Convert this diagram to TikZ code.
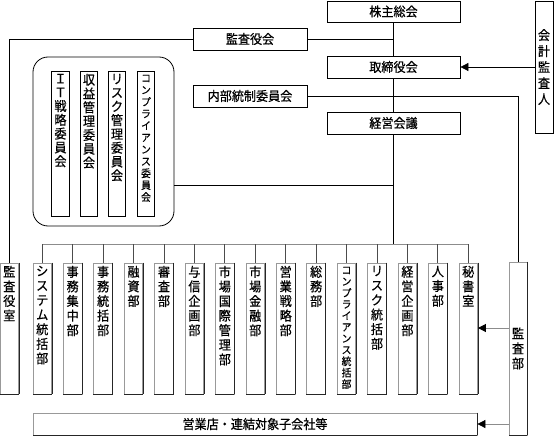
\documentclass[tikz,border=0pt]{standalone}
\usepackage{fontspec}
\setmainfont{Noto Sans CJK JP}[FakeStretch=0.93, FakeBold=0.6]
\usetikzlibrary{arrows.meta}
\tikzset{
  ln/.style={draw=black, line width=0.8pt},
  gln/.style={draw=black!45, line width=0.8pt},
  arr/.style={draw=black!45, line width=0.8pt, -{Triangle[length=8pt,width=8pt,color=black]}},
  hbox/.style={draw=black, line width=0.8pt, inner sep=0pt, font=\fontsize{13}{15}\selectfont},
  vbox/.style={draw=black, line width=0.8pt, inner sep=0pt, minimum width=18pt},
  dept/.style={draw=black!40, line width=0.8pt, inner sep=0pt, minimum width=18.5pt, minimum height=131pt,
    append after command={(\tikzlastnode.north east) edge[draw=black!85,line width=0.8pt] (\tikzlastnode.south east)
      (\tikzlastnode.south east) edge[draw=black!85,line width=0.8pt] (\tikzlastnode.south west)}},
  vtxt/.style={anchor=north, inner sep=0pt, align=center, font=\fontsize{13}{14.6}\selectfont},
  ctxt/.style={anchor=north, inner sep=0pt, align=center, font=\fontsize{13}{13.8}\selectfont},
}
\begin{document}
\begin{tikzpicture}[x=1pt,y=-1pt]
\useasboundingbox (0,0) rectangle (554,436);
% top section
\node[hbox, minimum width=133pt, minimum height=21pt] (kabu) at (393.5,11.5) {株主総会};
\node[hbox, minimum width=114pt, minimum height=22pt] (kansayaku) at (250,39) {監査役会};
\node[hbox, minimum width=133pt, minimum height=22pt] (tori) at (393.5,67) {取締役会};
\node[hbox, minimum width=114pt, minimum height=22pt] (naibu) at (250,96) {内部統制委員会};
\node[hbox, minimum width=133pt, minimum height=22pt] (keiei) at (393.5,123) {経営会議};
\node[vbox, minimum height=132pt, align=center, font=\fontsize{13}{16}\selectfont] (kaikei) at (544,67) {会\\計\\監\\査\\人};
% committees
\node[draw=black, line width=0.8pt, rounded corners=15pt, minimum width=141pt, minimum height=169pt, inner sep=0pt] (iinkai) at (103.5,141.5) {};
\node[vbox, minimum height=145pt, minimum width=17.5pt] (c1) at (60.5,143.5) {};
\node[vbox, minimum height=145pt, minimum width=17.5pt] (c2) at (89,143.5) {};
\node[vbox, minimum height=145pt, minimum width=17.5pt] (c3) at (117,143.5) {};
\node[vbox, minimum height=145pt, minimum width=17.5pt] (c4) at (146,143.5) {};
\node[ctxt] (ct1) at ([yshift=-3pt]c1.north) {Ｉ\\Ｔ\\戦\\略\\委\\員\\会};
\node[ctxt] (ct2) at ([yshift=-3pt]c2.north) {収\\益\\管\\理\\委\\員\\会};
\node[ctxt] (ct3) at ([yshift=-3pt]c3.north) {リ\\ス\\ク\\管\\理\\委\\員\\会};
\node[ctxt, font=\fontsize{10.5}{11.9}\selectfont] (ct4) at ([yshift=-4pt]c4.north) {コ\\ン\\プ\\ラ\\イ\\ア\\ン\\ス\\委\\員\\会};
% departments
\coordinate (bus) at (393.5,244);
\node[dept] (kyakushitsu) at (9.25,328.5) {};
\node[vtxt] (kyt) at ([yshift=-3pt]kyakushitsu.north) {監\\査\\役\\室};
\foreach \i/\t in {0/{シ\\ス\\テ\\ム\\統\\括\\部},1/{事\\務\\集\\中\\部},2/{事\\務\\統\\括\\部},3/{融\\資\\部},4/{審\\査\\部},5/{与\\信\\企\\画\\部},6/{市\\場\\国\\際\\管\\理\\部},7/{市\\場\\金\\融\\部},8/{営\\業\\戦\\略\\部},9/{総\\務\\部},11/{リ\\ス\\ク\\統\\括\\部},12/{経\\営\\企\\画\\部},13/{人\\事\\部},14/{秘\\書\\室}}{
  \node[dept] (d\i) at ({42.25+30.43*\i},328.5) {};
  \node[vtxt] (t\i) at ([yshift=-3pt]d\i.north) {\t};
}
\node[dept] (d10) at ({42.25+30.43*10},328.5) {};
\node[vtxt, font=\fontsize{10.5}{11.4}\selectfont] (t10) at ([yshift=-4pt]d10.north) {コ\\ン\\プ\\ラ\\イ\\ア\\ン\\ス\\統\\括\\部};
\node[dept, minimum width=18pt, minimum height=173pt, align=center, font=\fontsize{13}{15}\selectfont] (kansabu) at (518,348.5) {監\\査\\部};
\node[dept, minimum width=444pt, minimum height=22pt, font=\fontsize{13}{15}\selectfont] (eigyo) at (255,424) {営業店・連結対象子会社等};
% connectors
\draw[ln] (kabu.south) -- (tori.north);
\draw[ln] (tori.south) -- (keiei.north);
\draw[ln] (keiei.south) -- (bus);
\draw[ln] (kansayaku.east) -- (kansayaku.east -| kabu.south);
\draw[ln] (kansayaku.west) -| (kyakushitsu.north);
\draw[ln] (naibu.east) -| (kansabu.north);
\draw[ln] (iinkai.east |- 0,185) -- (393.5,185);
\draw[ln, -{Triangle[length=8pt,width=8pt]}] (kaikei.west |- tori.east) -- (tori.east);
\draw[gln] (d0.north |- bus) -- (d14.north |- bus);
\foreach \i in {0,...,14}{ \draw[ln, draw=black!70] (d\i.north |- bus) -- (d\i.north); }
\draw[arr] (kansabu.west |- 0,328) -- (d14.east |- 0,328);
\draw[arr] (kansabu.west |- eigyo.east) -- (eigyo.east);
\end{tikzpicture}
\end{document}
